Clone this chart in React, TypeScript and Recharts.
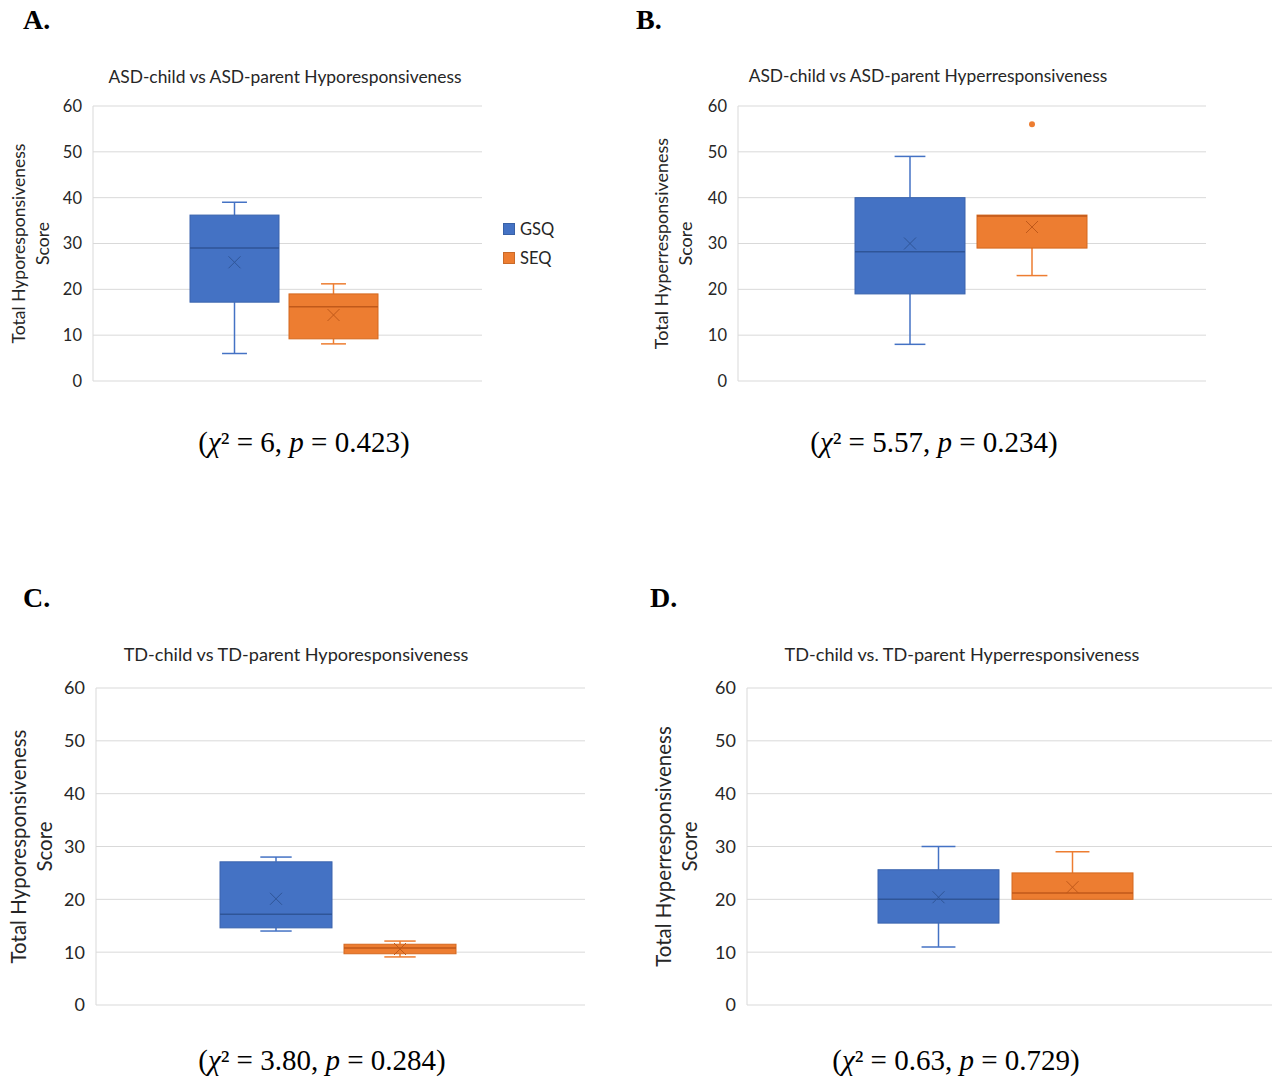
import React from "react";
import { ComposedChart, Bar, XAxis, YAxis, CartesianGrid, Legend } from "recharts";

const PANELS = ["A", "B", "C", "D"];
const TITLES = [
  "ASD-child vs ASD-parent Hyporesponsiveness",
  "ASD-child vs ASD-parent Hyperresponsiveness",
  "TD-child vs TD-parent Hyporesponsiveness",
  "TD-child vs. TD-parent Hyperresponsiveness",
];
const Y_TITLES = [
  "Total Hyporesponsiveness",
  "Total Hyperresponsiveness",
  "Total Hyporesponsiveness",
  "Total Hyperresponsiveness",
];
const CHI_SQ = ["6", "5.57", "3.80", "0.63"];
const P_VALUES = ["0.423", "0.234", "0.284", "0.729"];
const Y_TICKS = [0, 10, 20, 30, 40, 50, 60];

// five-number summaries
const GSQ_MIN = [6, 8, 14, 11];
const GSQ_Q1 = [17.2, 19, 14.6, 15.5];
const GSQ_MEDIAN = [29, 28.2, 17.2, 20];
const GSQ_Q3 = [36.2, 40, 27.1, 25.6];
const GSQ_MAX = [39, 49, 28, 30];
const GSQ_MEAN = [25.9, 30, 20.1, 20.4];
const GSQ_OUTLIERS: number[][] = [[], [], [], []];

const SEQ_MIN = [8.1, 23, 9.1, 20];
const SEQ_Q1 = [9.2, 29, 9.7, 20];
const SEQ_MEDIAN = [16.2, 36, 10.8, 21.2];
const SEQ_Q3 = [19, 36.2, 11.5, 25];
const SEQ_MAX = [21.2, 36.2, 12.1, 29];
const SEQ_MEAN = [14.4, 33.6, 10.6, 22.3];
const SEQ_OUTLIERS: number[][] = [[], [56], [], []];

const BLUE = "#4472C4";
const ORANGE = "#ED7D31";
const TEXT = "#262626";
const SANS = "Lato, 'Noto Sans', sans-serif";
const SERIF = "'Liberation Serif', 'Times New Roman', serif";

const LAYOUT = [
  { left: 0, top: 60, width: 580, height: 340, mt: 46, mb: 19, mr: 0, axisW: 93, barSize: 89, barGap: 10, shift: 8, tick: 16.5, axisFont: 17.5, titleFont: 17.4, titleX: 285, titleY: 77, yTitle: [18, 42], statsX: 304, statsY: 442, letterX: 23, letterY: 20 },
  { left: 640, top: 60, width: 580, height: 340, mt: 46, mb: 19, mr: 14, axisW: 98, barSize: 110, barGap: 12, shift: 2, tick: 16.5, axisFont: 18, titleFont: 17.4, titleX: 928, titleY: 76, yTitle: [21, 45], statsX: 934, statsY: 442, letterX: 636, letterY: 20 },
  { left: 0, top: 630, width: 600, height: 395, mt: 58, mb: 20, mr: 15, axisW: 96, barSize: 112, barGap: 12, shift: 5, tick: 18, axisFont: 20.5, titleFont: 18.1, titleX: 296, titleY: 654, yTitle: [18, 44], statsX: 322, statsY: 1060, letterX: 23, letterY: 598 },
  { left: 640, top: 630, width: 639, height: 395, mt: 58, mb: 20, mr: 7, axisW: 107, barSize: 121, barGap: 13, shift: 8, tick: 18, axisFont: 20.5, titleFont: 18.1, titleX: 962, titleY: 654, yTitle: [23, 49], statsX: 956, statsY: 1060, letterX: 650, letterY: 598 },
];

function rowFor(i: number) {
  return [
    {
      name: PANELS[i],
      gsq: [GSQ_Q1[i], GSQ_Q3[i]],
      gsqMin: GSQ_MIN[i],
      gsqQ1: GSQ_Q1[i],
      gsqMedian: GSQ_MEDIAN[i],
      gsqQ3: GSQ_Q3[i],
      gsqMax: GSQ_MAX[i],
      gsqMean: GSQ_MEAN[i],
      gsqOut: GSQ_OUTLIERS[i],
      seq: [SEQ_Q1[i], SEQ_Q3[i]],
      seqMin: SEQ_MIN[i],
      seqQ1: SEQ_Q1[i],
      seqMedian: SEQ_MEDIAN[i],
      seqQ3: SEQ_Q3[i],
      seqMax: SEQ_MAX[i],
      seqMean: SEQ_MEAN[i],
      seqOut: SEQ_OUTLIERS[i],
    },
  ];
}

function BoxShape(props: any) {
  const { x, y, width, height, payload, prefix, color, edge, dark } = props;
  const q1 = payload[prefix + "Q1"];
  const q3 = payload[prefix + "Q3"];
  const min = payload[prefix + "Min"];
  const max = payload[prefix + "Max"];
  const median = payload[prefix + "Median"];
  const mean = payload[prefix + "Mean"];
  const outliers: number[] = payload[prefix + "Out"] || [];
  // bar spans q1..q3, so its pixel height gives the scale for the other stats
  const unit = height / (q3 - q1);
  const toY = (v: number) => y + (q3 - v) * unit;
  const cx = x + width / 2;
  const cap = width * 0.14;
  const m = 6;
  const my = toY(mean);
  return (
    <g>
      {max > q3 && (
        <g stroke={color} strokeWidth={1.5}>
          <line x1={cx} x2={cx} y1={toY(max)} y2={y} />
          <line x1={cx - cap} x2={cx + cap} y1={toY(max)} y2={toY(max)} />
        </g>
      )}
      {min < q1 && (
        <g stroke={color} strokeWidth={1.5}>
          <line x1={cx} x2={cx} y1={y + height} y2={toY(min)} />
          <line x1={cx - cap} x2={cx + cap} y1={toY(min)} y2={toY(min)} />
        </g>
      )}
      <rect x={x} y={y} width={width} height={height} fill={color} stroke={edge} strokeWidth={1} />
      <line x1={x} x2={x + width} y1={toY(median)} y2={toY(median)} stroke={dark} strokeWidth={1.5} />
      <g stroke={dark} strokeWidth={1}>
        <line x1={cx - m} x2={cx + m} y1={my - m} y2={my + m} />
        <line x1={cx - m} x2={cx + m} y1={my + m} y2={my - m} />
      </g>
      {outliers.map((v, k) => (
        <circle key={k} cx={cx} cy={toY(v)} r={3} fill={color} />
      ))}
    </g>
  );
}

function LegendBox(props: any) {
  const items = props.payload || [];
  return (
    <div style={{ width: 98, paddingLeft: 21, boxSizing: "border-box", fontFamily: SANS, fontSize: 16.5, color: TEXT }}>
      {items.map((e: any) => (
        <div key={e.value} style={{ height: 29, display: "flex", alignItems: "center" }}>
          <span style={{ width: 12, height: 12, background: e.color, boxShadow: "inset 0 0 0 1px rgba(0,0,0,0.15)", marginRight: 5 }} />
          <span>{e.value}</span>
        </div>
      ))}
    </div>
  );
}

function Panel({ i }: { i: number }) {
  const L = LAYOUT[i];
  const yTitle = (p: any) => {
    const vb = p.viewBox || {};
    const cy = vb.y + vb.height / 2;
    return (
      <g fontFamily={SANS} fontSize={L.axisFont} fill={TEXT}>
        <text x={L.yTitle[0]} y={cy} textAnchor="middle" dominantBaseline="central" transform={`rotate(-90, ${L.yTitle[0]}, ${cy})`}>
          {Y_TITLES[i]}
        </text>
        <text x={L.yTitle[1]} y={cy} textAnchor="middle" dominantBaseline="central" transform={`rotate(-90, ${L.yTitle[1]}, ${cy})`}>
          Score
        </text>
      </g>
    );
  };
  return (
    <>
      <div style={{ position: "absolute", left: L.letterX, top: L.letterY - 17, height: 34, lineHeight: "34px", fontFamily: SERIF, fontWeight: "bold", fontSize: 28, color: "#000" }}>
        {PANELS[i]}.
      </div>
      <div style={{ position: "absolute", left: L.titleX - 250, width: 500, top: L.titleY - 12, height: 24, lineHeight: "24px", textAlign: "center", fontFamily: SANS, fontSize: L.titleFont, color: TEXT }}>
        {TITLES[i]}
      </div>
      <div style={{ position: "absolute", left: L.left, top: L.top }}>
        <ComposedChart
          width={L.width}
          height={L.height}
          data={rowFor(i)}
          margin={{ top: L.mt, bottom: L.mb, left: 0, right: L.mr }}
          barGap={L.barGap}
        >
          <CartesianGrid vertical={false} stroke="#d9d9d9" />
          <XAxis dataKey="name" hide padding={{ left: 0, right: L.shift }} />
          <YAxis
            domain={[0, 60]}
            ticks={Y_TICKS}
            width={L.axisW}
            axisLine={{ stroke: "#d9d9d9" }}
            tickLine={false}
            tickSize={0}
            tickMargin={11}
            tick={{ fill: TEXT, fontSize: L.tick, fontFamily: SANS }}
            label={yTitle}
          />
          {i === 0 && (
            <Legend
              layout="vertical"
              align="right"
              verticalAlign="top"
              wrapperStyle={{ top: 154 }}
              content={(p: any) => <LegendBox {...p} />}
            />
          )}
          <Bar
            dataKey="gsq"
            name="GSQ"
            fill={BLUE}
            barSize={L.barSize}
            isAnimationActive={false}
            shape={(p: any) => <BoxShape {...p} prefix="gsq" color={BLUE} edge="#3a63ad" dark="#2f5597" />}
          />
          <Bar
            dataKey="seq"
            name="SEQ"
            fill={ORANGE}
            barSize={L.barSize}
            isAnimationActive={false}
            shape={(p: any) => <BoxShape {...p} prefix="seq" color={ORANGE} edge="#d4691f" dark="#c0591a" />}
          />
        </ComposedChart>
      </div>
      <div style={{ position: "absolute", left: L.statsX - 200, width: 400, top: L.statsY - 19, height: 38, lineHeight: "38px", textAlign: "center", fontFamily: SERIF, fontSize: 29, color: "#000" }}>
        (<i>χ</i>² = {CHI_SQ[i]}, <i>p</i> = {P_VALUES[i]})
      </div>
    </>
  );
}

export default function App() {
  return (
    <div style={{ position: "absolute", left: 0, top: 0, width: 1279, height: 1083, background: "#fff", overflow: "hidden" }}>
      {PANELS.map((_, i) => (
        <Panel key={i} i={i} />
      ))}
    </div>
  );
}
